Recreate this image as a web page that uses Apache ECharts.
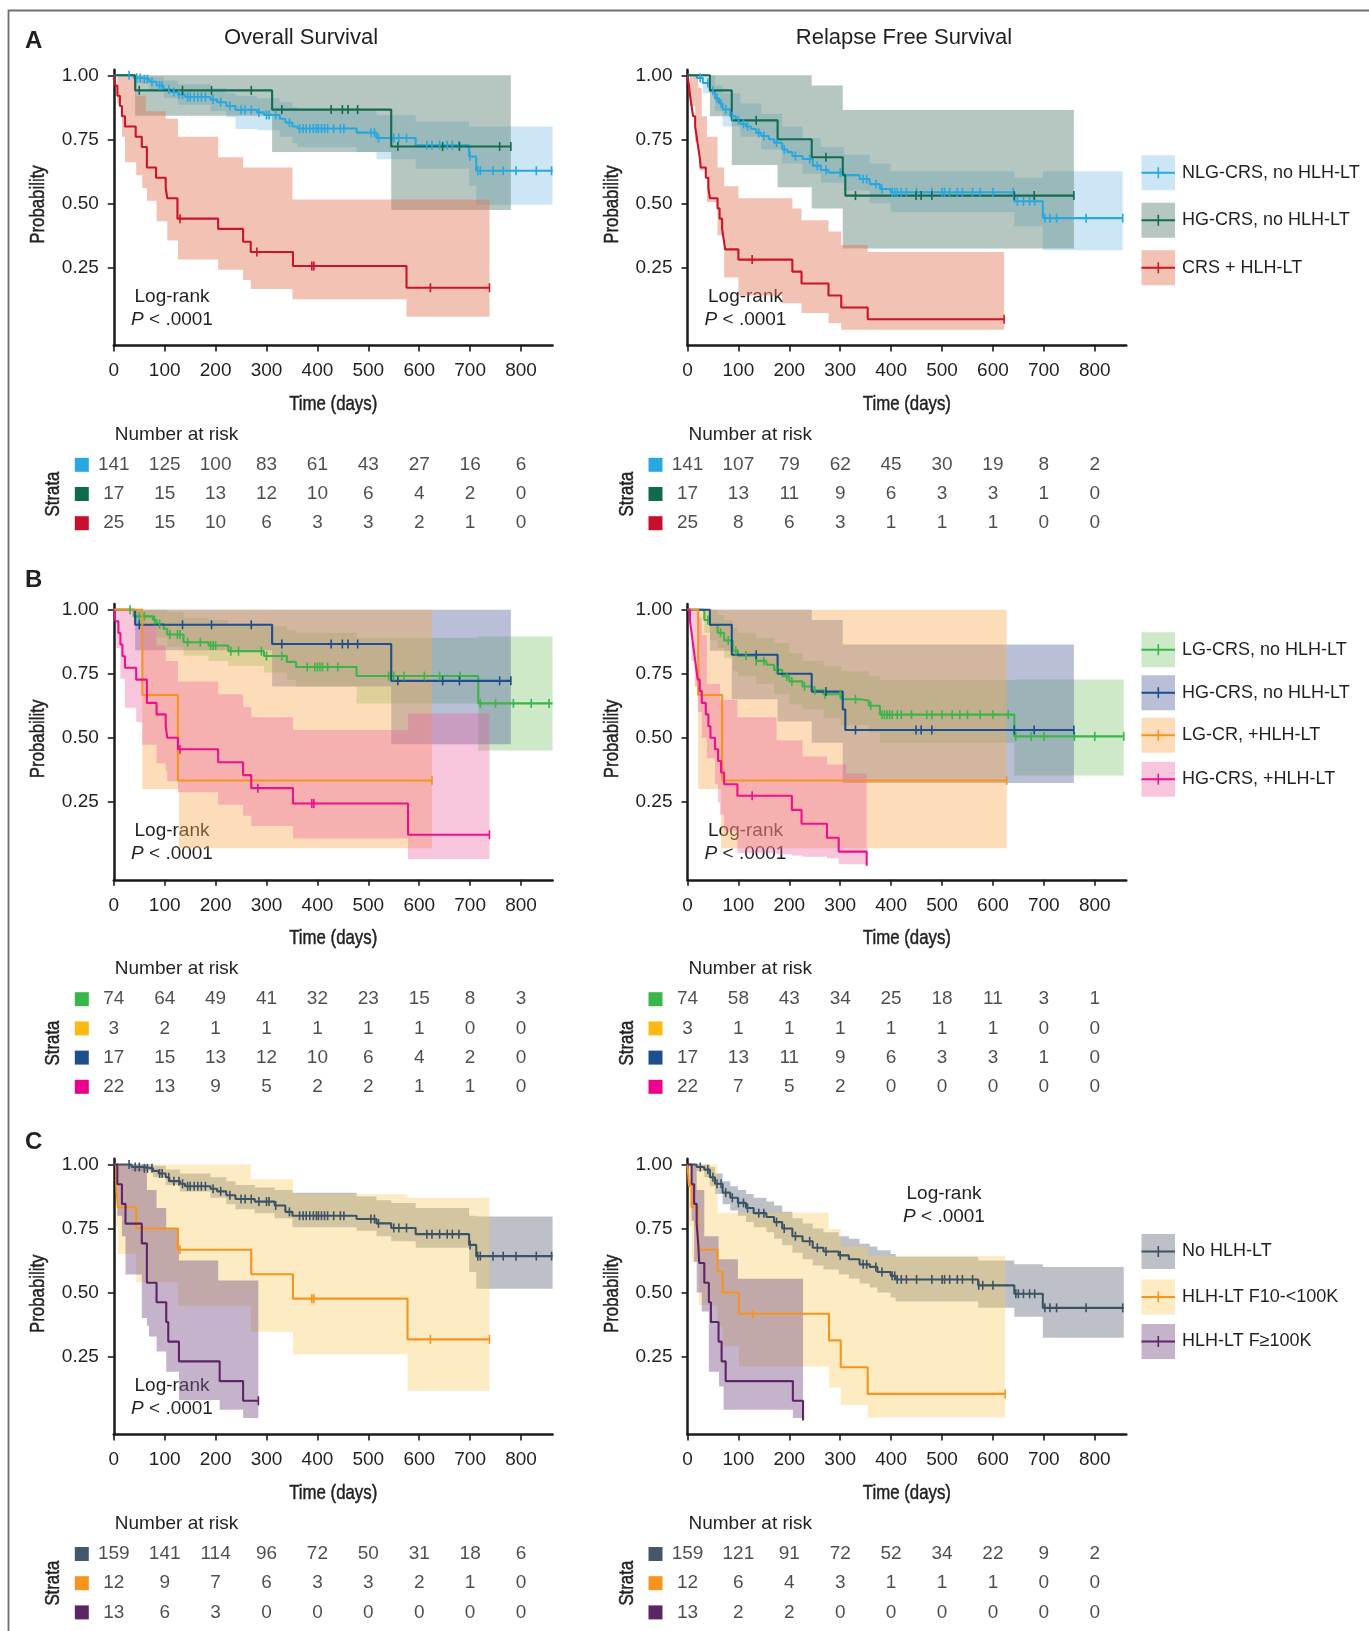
<!DOCTYPE html>
<html><head><meta charset="utf-8">
<script src="https://cdn.jsdelivr.net/npm/echarts@6/dist/echarts.min.js"></script>
<style>html,body{margin:0;padding:0;background:#fff}#c{width:1369px;height:1631px}</style>
</head><body><div id="c"></div>
<script>
// ---------- tick labels ----------
const X_TICKS=[0,100,200,300,400,500,600,700,800];
const Y_TICKS=[0.25,0.5,0.75,1.0];
const PANEL_TITLES=['Overall Survival','Relapse Free Survival'];
const PANEL_LETTERS=['A','B','C'];
const X_NAME='Time (days)', Y_NAME='Probability', RISK_TITLE='Number at risk', STRATA='Strata';

// ---------- Panel A ----------
const A_NAMES=['NLG-CRS, no HLH-LT','HG-CRS, no HLH-LT','CRS + HLH-LT'];
const A_OS_NLG_LINE=[[0,1],[39,0.99],[56,0.985],[70,0.975],[84,0.96],[98,0.945],[112,0.935],[126,0.925],[140,0.915],[190,0.905],[203,0.895],[221,0.88],[239,0.865],[281,0.855],[295,0.845],[326,0.83],[337,0.815],[351,0.80],[361,0.792],[477,0.776],[516,0.755],[593,0.727],[698,0.683],[712,0.627],[862,0.627]];
const A_OS_NLG_CENS=[30,45,52,60,66,75,90,95,108,118,128,135,145,150,158,165,172,180,195,210,228,250,258,270,285,300,305,318,345,365,372,378,385,392,398,402,408,414,420,432,445,452,505,512,520,550,560,575,615,625,640,655,665,678,700,715,720,745,765,790,830,860];
const A_OS_NLG_BAND=[[0,1,1],[39,0.97,1],[70,0.945,0.995],[98,0.91,0.98],[126,0.885,0.965],[190,0.86,0.95],[221,0.835,0.93],[239,0.79,0.92],[281,0.785,0.91],[326,0.76,0.895],[351,0.735,0.875],[361,0.72,0.87],[477,0.70,0.86],[516,0.672,0.845],[593,0.635,0.82],[698,0.57,0.80],[712,0.494,0.80]];
const A_OS_HG_LINE=[[0,1],[42,0.941],[311,0.866],[545,0.722],[780,0.722]];
const A_OS_HG_CENS=[50,135,192,270,330,427,449,460,479,558,646,679,758,780];
const A_OS_HG_BAND=[[0,1,1],[42,0.842,1],[311,0.70,1],[545,0.474,1]];
const A_OS_HLH_LINE=[[0,1],[3,0.96],[7,0.92],[12,0.88],[16,0.84],[22,0.80],[43,0.76],[55,0.72],[65,0.64],[83,0.60],[102,0.56],[105,0.52],[125,0.44],[205,0.40],[254,0.35],[269,0.31],[352,0.255],[575,0.17],[738,0.17]];
const A_OS_HLH_CENS=[130,281,389,393,622,738];
const A_OS_HLH_BAND=[[0,1,1],[7,0.89,1],[16,0.76,1],[22,0.66,1],[44,0.61,0.92],[56,0.56,0.92],[63,0.56,0.86],[65,0.51,0.86],[84,0.43,0.86],[102,0.43,0.83],[105,0.355,0.83],[126,0.28,0.76],[205,0.24,0.68],[254,0.20,0.64],[269,0.165,0.64],[351,0.125,0.515],[575,0.057,0.515]];

const A_RFS_NLG_LINE=[[0,1],[18,0.99],[30,0.97],[44,0.94],[54,0.91],[62,0.89],[69,0.867],[84,0.84],[95,0.825],[104,0.81],[115,0.80],[125,0.79],[135,0.775],[145,0.763],[160,0.75],[170,0.737],[186,0.71],[196,0.70],[206,0.685],[226,0.673],[246,0.647],[262,0.63],[277,0.62],[307,0.61],[338,0.595],[358,0.575],[378,0.556],[399,0.543],[642,0.508],[698,0.442],[855,0.442]];
const A_RFS_NLG_CENS=[25,40,50,58,66,75,88,100,110,118,140,150,175,190,212,240,255,272,300,345,352,370,382,402,407,412,420,430,450,480,500,505,515,530,540,560,575,600,640,648,660,672,682,702,712,725,783,855];
const A_RFS_NLG_BAND=[[0,1,1],[30,0.93,1],[54,0.86,0.96],[69,0.80,0.93],[104,0.76,0.89],[145,0.71,0.85],[186,0.655,0.80],[226,0.615,0.755],[262,0.58,0.72],[307,0.55,0.69],[358,0.50,0.655],[399,0.465,0.625],[642,0.41,0.60],[698,0.317,0.625]];
const A_RFS_HG_LINE=[[0,1],[44,0.941],[87,0.824],[177,0.75],[244,0.68],[305,0.61],[310,0.53],[759,0.53]];
const A_RFS_HG_CENS=[135,272,330,449,459,480,642,681,759];
const A_RFS_HG_BAND=[[0,1,1],[44,0.84,1],[87,0.65,1],[177,0.563,1],[244,0.48,0.96],[305,0.323,0.864]];
const A_RFS_HLH_LINE=[[0,1],[3,0.96],[5,0.92],[8,0.88],[11,0.84],[15,0.80],[18,0.76],[21,0.72],[24,0.68],[26,0.64],[36,0.60],[41,0.56],[44,0.52],[59,0.48],[63,0.44],[68,0.40],[71,0.36],[74,0.32],[100,0.28],[206,0.233],[224,0.187],[277,0.14],[302,0.093],[354,0.047],[622,0.047]];
const A_RFS_HLH_CENS=[127,622];
const A_RFS_HLH_BAND=[[0,1,1],[5,0.88,1],[15,0.74,1],[21,0.74,0.95],[23,0.63,0.95],[28,0.63,0.84],[38,0.505,0.76],[59,0.375,0.64],[72,0.21,0.567],[100,0.14,0.52],[186,0.11,0.52],[206,0.11,0.48],[224,0.071,0.434],[277,0.032,0.39],[302,0.006,0.337],[354,0.006,0.31]];

const A_OS_RISK=[[141,125,100,83,61,43,27,16,6],[17,15,13,12,10,6,4,2,0],[25,15,10,6,3,3,2,1,0]];
const A_RFS_RISK=[[141,107,79,62,45,30,19,8,2],[17,13,11,9,6,3,3,1,0],[25,8,6,3,1,1,1,0,0]];

// ---------- Panel B ----------
const B_NAMES=['LG-CRS, no HLH-LT','HG-CRS, no HLH-LT','LG-CR, +HLH-LT','HG-CRS, +HLH-LT'];
const B_OS_LG_LINE=[[0,1],[39,0.974],[77,0.96],[84,0.944],[98,0.925],[105,0.903],[137,0.873],[186,0.86],[225,0.838],[295,0.819],[340,0.796],[358,0.776],[477,0.741],[716,0.634],[862,0.634]];
const B_OS_LG_CENS=[32,50,60,80,90,110,125,130,145,170,190,195,200,230,245,290,300,330,380,395,400,405,410,420,440,540,550,570,610,640,680,720,750,785,820,855];
const B_OS_LG_BAND=[[0,1,1],[39,0.94,1],[84,0.89,1],[105,0.855,0.99],[137,0.82,0.97],[186,0.80,0.96],[225,0.78,0.945],[295,0.755,0.935],[340,0.725,0.92],[358,0.70,0.91],[477,0.634,0.89],[716,0.45,0.895]];
const B_OS_HG_LINE=[[0,1],[42,0.941],[311,0.866],[545,0.722],[780,0.722]];
const B_OS_HG_CENS=[50,135,192,270,330,427,449,460,479,558,646,679,758,780];
const B_OS_HG_BAND=[[0,1,1],[42,0.842,1],[311,0.70,1],[545,0.474,1]];
const B_OS_LGH_LINE=[[0,1],[56,0.667],[126,0.333],[625,0.333]];
const B_OS_LGH_CENS=[625];
const B_OS_LGH_BAND=[[0,1,1],[56,0.30,1],[128,0.068,1]];
const B_OS_HGH_LINE=[[0,1],[3,0.955],[9,0.909],[13,0.864],[17,0.818],[22,0.773],[44,0.727],[65,0.636],[84,0.591],[102,0.545],[105,0.50],[126,0.455],[205,0.404],[254,0.354],[270,0.303],[352,0.243],[578,0.121],[738,0.121]];
const B_OS_HGH_CENS=[130,283,389,393,738];
const B_OS_HGH_BAND=[[0,1,1],[5,0.85,1],[13,0.73,1],[22,0.617,1],[44,0.56,0.94],[56,0.472,0.94],[84,0.40,0.86],[102,0.37,0.80],[105,0.33,0.80],[126,0.287,0.72],[205,0.238,0.67],[254,0.195,0.62],[270,0.155,0.58],[352,0.106,0.53],[578,0.026,0.595]];

const B_RFS_LG_LINE=[[0,1],[33,0.96],[44,0.94],[59,0.91],[72,0.88],[89,0.84],[99,0.82],[135,0.80],[155,0.785],[170,0.765],[186,0.74],[200,0.72],[226,0.70],[246,0.685],[267,0.67],[302,0.65],[338,0.645],[356,0.625],[378,0.59],[642,0.505],[857,0.505]];
const B_RFS_LG_CENS=[40,65,80,95,115,135,150,175,195,205,230,250,270,300,330,360,382,387,392,397,402,412,420,440,470,480,500,520,535,550,575,600,630,645,675,700,760,800,857];
const B_RFS_LG_BAND=[[0,1,1],[33,0.91,1],[44,0.88,1],[59,0.85,0.98],[72,0.81,0.96],[89,0.76,0.93],[99,0.74,0.91],[135,0.71,0.89],[170,0.67,0.87],[200,0.63,0.83],[226,0.61,0.80],[267,0.575,0.78],[302,0.55,0.76],[356,0.52,0.74],[378,0.48,0.725],[642,0.352,0.727]];
const B_RFS_HG_LINE=[[0,1],[44,0.941],[87,0.824],[177,0.75],[244,0.68],[305,0.61],[310,0.53],[759,0.53]];
const B_RFS_HG_CENS=[135,272,330,449,459,480,642,681,759];
const B_RFS_HG_BAND=[[0,1,1],[44,0.84,1],[87,0.65,1],[177,0.563,1],[244,0.48,0.96],[305,0.323,0.864]];
const B_RFS_LGH_LINE=[[0,1],[21,0.667],[68,0.333],[627,0.333]];
const B_RFS_LGH_CENS=[627];
const B_RFS_LGH_BAND=[[0,1,1],[21,0.30,1],[66,0.068,1]];
const B_RFS_HGH_LINE=[[0,1],[5,0.955],[8,0.909],[11,0.864],[14,0.818],[17,0.773],[20,0.727],[24,0.682],[28,0.636],[36,0.591],[41,0.545],[45,0.50],[54,0.455],[60,0.409],[66,0.364],[72,0.318],[98,0.273],[205,0.218],[224,0.164],[274,0.109],[297,0.055],[352,0]];
const B_RFS_HGH_CENS=[127];
const B_RFS_HGH_BAND=[[0,1,1],[8,0.80,1],[14,0.70,1],[20,0.60,0.97],[28,0.50,0.90],[38,0.42,0.71],[54,0.32,0.71],[60,0.247,0.71],[64,0.20,0.647],[72,0.137,0.647],[98,0.05,0.58],[175,0.045,0.49],[205,0.04,0.49],[226,0.035,0.427],[274,0.029,0.395],[297,0.006,0.395],[312,0.006,0.36]];

const B_RISK_NAMES=['LG-CRS, no HLH-LT','LG-CR, +HLH-LT','HG-CRS, no HLH-LT','HG-CRS, +HLH-LT'];
const B_OS_RISK=[[74,64,49,41,32,23,15,8,3],[3,2,1,1,1,1,1,0,0],[17,15,13,12,10,6,4,2,0],[22,13,9,5,2,2,1,1,0]];
const B_RFS_RISK=[[74,58,43,34,25,18,11,3,1],[3,1,1,1,1,1,1,0,0],[17,13,11,9,6,3,3,1,0],[22,7,5,2,0,0,0,0,0]];

// ---------- Panel C ----------
const C_NAMES=['No HLH-LT','HLH-LT F10-<100K','HLH-LT F\u2265100K'];
const C_OS_NO_LINE=[[0,1],[35,0.99],[56,0.985],[77,0.975],[88,0.965],[102,0.95],[109,0.935],[130,0.925],[140,0.915],[190,0.905],[203,0.895],[221,0.88],[239,0.865],[277,0.855],[316,0.84],[337,0.815],[351,0.80],[477,0.787],[516,0.77],[545,0.752],[593,0.728],[698,0.686],[712,0.642],[862,0.642]];
const C_OS_NO_CENS=[30,42,50,60,66,75,90,95,108,118,128,135,145,150,158,165,172,180,195,210,228,250,258,270,285,300,305,318,345,365,372,378,385,392,398,402,408,414,420,432,445,452,505,512,520,550,560,575,615,625,640,655,665,678,700,715,720,745,765,790,830,860];
const C_OS_NO_BAND=[[0,1,1],[35,0.975,1],[77,0.95,0.995],[102,0.92,0.98],[130,0.895,0.965],[190,0.87,0.95],[221,0.845,0.935],[239,0.825,0.92],[277,0.81,0.91],[316,0.79,0.90],[351,0.755,0.89],[477,0.741,0.875],[516,0.72,0.86],[545,0.70,0.85],[593,0.675,0.83],[698,0.58,0.80],[712,0.515,0.797]];
const C_OS_F10_LINE=[[0,1],[5,0.917],[8,0.833],[44,0.75],[126,0.667],[270,0.571],[352,0.476],[577,0.317],[738,0.317]];
const C_OS_F10_CENS=[130,389,393,622,738];
const C_OS_F10_BAND=[[0,1,1],[5,0.76,1],[8,0.65,1],[44,0.54,1],[126,0.448,1],[269,0.347,0.942],[352,0.259,0.884],[577,0.116,0.87]];
const C_OS_F100_LINE=[[0,1],[7,0.923],[16,0.846],[23,0.769],[55,0.692],[65,0.538],[84,0.462],[103,0.385],[107,0.308],[128,0.231],[208,0.154],[254,0.077],[284,0.077]];
const C_OS_F100_CENS=[284];
const C_OS_F100_BAND=[[0,1,1],[7,0.80,1],[16,0.72,1],[23,0.57,1],[55,0.40,1],[65,0.37,0.90],[69,0.328,0.90],[84,0.27,0.83],[103,0.19,0.75],[128,0.08,0.625],[205,0.08,0.547],[208,0.042,0.547],[254,0.01,0.547]];

const C_RFS_NO_LINE=[[0,1],[18,0.99],[33,0.98],[44,0.95],[54,0.925],[69,0.89],[84,0.87],[99,0.85],[115,0.83],[130,0.81],[155,0.795],[170,0.775],[186,0.75],[206,0.72],[226,0.70],[246,0.675],[267,0.66],[297,0.645],[317,0.63],[338,0.61],[358,0.60],[373,0.58],[399,0.565],[409,0.551],[571,0.528],[642,0.495],[698,0.44],[857,0.44]];
const C_RFS_NO_CENS=[25,40,50,58,66,75,88,100,110,118,140,150,175,190,212,240,255,272,300,345,352,370,382,402,407,412,420,430,450,480,500,505,515,530,540,560,572,580,600,645,650,660,672,682,702,712,725,783,855];
const C_RFS_NO_BAND=[[0,1,1],[18,0.975,1],[33,0.95,1],[44,0.915,0.99],[54,0.885,0.965],[69,0.845,0.935],[84,0.82,0.915],[99,0.80,0.90],[115,0.775,0.885],[130,0.755,0.87],[155,0.735,0.855],[170,0.71,0.84],[186,0.685,0.815],[206,0.655,0.79],[226,0.63,0.77],[246,0.605,0.75],[267,0.59,0.735],[297,0.57,0.72],[317,0.555,0.71],[338,0.535,0.69],[358,0.52,0.68],[373,0.50,0.665],[399,0.48,0.65],[409,0.465,0.64],[571,0.44,0.625],[642,0.405,0.61],[698,0.323,0.60]];
const C_RFS_F10_LINE=[[0,1],[3,0.917],[8,0.833],[20,0.75],[22,0.667],[59,0.583],[69,0.50],[101,0.417],[278,0.313],[301,0.208],[354,0.104],[624,0.104]];
const C_RFS_F10_CENS=[128,624];
const C_RFS_F10_BAND=[[0,1,1],[3,0.76,1],[8,0.62,1],[22,0.45,1],[59,0.37,0.812],[69,0.29,0.812],[101,0.211,0.812],[277,0.211,0.748],[278,0.129,0.748],[301,0.061,0.68],[354,0.012,0.644]];
const C_RFS_F100_LINE=[[0,1],[8,0.923],[13,0.846],[18,0.769],[21,0.692],[23,0.615],[33,0.538],[42,0.462],[46,0.385],[61,0.308],[67,0.231],[75,0.154],[207,0.077],[227,0]];
const C_RFS_F100_CENS=[];
const C_RFS_F100_BAND=[[0,1,1],[8,0.78,1],[13,0.62,1],[18,0.50,0.90],[28,0.426,0.90],[33,0.426,0.72],[42,0.19,0.72],[61,0.19,0.63],[62,0.133,0.63],[71,0.042,0.63],[99,0.042,0.554],[207,0.01,0.554]];

const C_OS_RISK=[[159,141,114,96,72,50,31,18,6],[12,9,7,6,3,3,2,1,0],[13,6,3,0,0,0,0,0,0]];
const C_RFS_RISK=[[159,121,91,72,52,34,22,9,2],[12,6,4,3,1,1,1,0,0],[13,2,2,0,0,0,0,0,0]];

// ---------- styles ----------
const FONT="'Liberation Sans', Arial, Helvetica, sans-serif";
const INK='#231f20';
const NARROW_SCALE=0.82;
const S_A=[{line:'#29A8E0',band:'rgba(112,184,226,0.35)',sq:'#29A8E0'},{line:'#136B4E',band:'rgba(91,131,115,0.45)',sq:'#0F6B4F'},{line:'#CC1429',band:'rgba(226,119,91,0.45)',sq:'#C8102E'}];
const S_B={LG:{line:'#3AB54A',band:'rgba(130,200,115,0.4)',sq:'#3AB54A'},HG:{line:'#1D4F8C',band:'rgba(99,113,164,0.45)',sq:'#1D4F8C'},LGH:{line:'#F7941D',band:'rgba(250,170,80,0.4)',sq:'#FDB913'},HGH:{line:'#EC118C',band:'rgba(232,92,158,0.35)',sq:'#EC008C'}};
const S_C=[{line:'#3B5364',band:'rgba(108,115,128,0.45)',sq:'#43596B'},{line:'#F7941D',band:'rgba(247,205,105,0.4)',sq:'#F7941D'},{line:'#5C2566',band:'rgba(126,86,139,0.45)',sq:'#5C2566'}];

// ---------- layout ----------
const XMAX=862, YMIN=-0.055, YMAX=1.022, PXU=256;
const LEFTS=[113.8,687.5], W=438.8, Y1S=[75.3,609.7,1164.5];
const ROW0_DY=389.5, ROW_H=29.2, NAR_DY=359;

const st=(l,c,b,s)=>({line:l,cens:c,band:b,sty:s});
const PANELS=[
 {row:0,col:0,strata:[st(A_OS_NLG_LINE,A_OS_NLG_CENS,A_OS_NLG_BAND,S_A[0]),st(A_OS_HG_LINE,A_OS_HG_CENS,A_OS_HG_BAND,S_A[1]),st(A_OS_HLH_LINE,A_OS_HLH_CENS,A_OS_HLH_BAND,S_A[2])],risk:A_OS_RISK,riskNames:A_NAMES,riskColors:S_A.map(s=>s.sq),lr:[172,221]},
 {row:0,col:1,strata:[st(A_RFS_NLG_LINE,A_RFS_NLG_CENS,A_RFS_NLG_BAND,S_A[0]),st(A_RFS_HG_LINE,A_RFS_HG_CENS,A_RFS_HG_BAND,S_A[1]),st(A_RFS_HLH_LINE,A_RFS_HLH_CENS,A_RFS_HLH_BAND,S_A[2])],risk:A_RFS_RISK,riskNames:A_NAMES,riskColors:S_A.map(s=>s.sq),lr:[745.5,221],
  legend:{names:A_NAMES,sty:S_A,dy:[97.5,145,192.5]}},
 {row:1,col:0,strata:[st(B_OS_LG_LINE,B_OS_LG_CENS,B_OS_LG_BAND,S_B.LG),st(B_OS_HG_LINE,B_OS_HG_CENS,B_OS_HG_BAND,S_B.HG),st(B_OS_LGH_LINE,B_OS_LGH_CENS,B_OS_LGH_BAND,S_B.LGH),st(B_OS_HGH_LINE,B_OS_HGH_CENS,B_OS_HGH_BAND,S_B.HGH)],risk:B_OS_RISK,riskNames:B_RISK_NAMES,riskColors:[S_B.LG.sq,S_B.LGH.sq,S_B.HG.sq,S_B.HGH.sq],lr:[172,221]},
 {row:1,col:1,strata:[st(B_RFS_LG_LINE,B_RFS_LG_CENS,B_RFS_LG_BAND,S_B.LG),st(B_RFS_HG_LINE,B_RFS_HG_CENS,B_RFS_HG_BAND,S_B.HG),st(B_RFS_LGH_LINE,B_RFS_LGH_CENS,B_RFS_LGH_BAND,S_B.LGH),st(B_RFS_HGH_LINE,B_RFS_HGH_CENS,B_RFS_HGH_BAND,S_B.HGH)],risk:B_RFS_RISK,riskNames:B_RISK_NAMES,riskColors:[S_B.LG.sq,S_B.LGH.sq,S_B.HG.sq,S_B.HGH.sq],lr:[745.5,221],
  legend:{names:B_NAMES,sty:[S_B.LG,S_B.HG,S_B.LGH,S_B.HGH],dy:[40,83,125.5,169.5]}},
 {row:2,col:0,strata:[st(C_OS_NO_LINE,C_OS_NO_CENS,C_OS_NO_BAND,S_C[0]),st(C_OS_F10_LINE,C_OS_F10_CENS,C_OS_F10_BAND,S_C[1]),st(C_OS_F100_LINE,C_OS_F100_CENS,C_OS_F100_BAND,S_C[2])],risk:C_OS_RISK,riskNames:C_NAMES,riskColors:S_C.map(s=>s.sq),lr:[172,221]},
 {row:2,col:1,strata:[st(C_RFS_NO_LINE,C_RFS_NO_CENS,C_RFS_NO_BAND,S_C[0]),st(C_RFS_F10_LINE,C_RFS_F10_CENS,C_RFS_F10_BAND,S_C[1]),st(C_RFS_F100_LINE,C_RFS_F100_CENS,C_RFS_F100_BAND,S_C[2])],risk:C_RFS_RISK,riskNames:C_NAMES,riskColors:S_C.map(s=>s.sq),lr:[944,29.5],
  legend:{names:C_NAMES,sty:S_C,dy:[87,132.5,177]}}
];

function stepAt(line,t){let v=line[0][1];for(const p of line){if(p[0]<=t)v=p[1];else break;}return v;}
function makeBand(rows,end,color){
  return function(params,api){
    if(params.dataIndex!==0) return;
    const pts=[];
    for(let i=0;i<rows.length;i++){const t0=rows[i][0],t1=i+1<rows.length?rows[i+1][0]:end;pts.push(api.coord([t0,rows[i][2]]));pts.push(api.coord([t1,rows[i][2]]));}
    for(let i=rows.length-1;i>=0;i--){const t0=rows[i][0],t1=i+1<rows.length?rows[i+1][0]:end;pts.push(api.coord([t1,rows[i][1]]));pts.push(api.coord([t0,rows[i][1]]));}
    return {type:'polygon',shape:{points:pts},style:{fill:color}};
  };
}
function txt(x,y,text,size,opt){
  opt=opt||{};
  const el={type:'text',x:x,y:y,style:{text:text,font:(opt.weight?opt.weight+' ':'')+size+'px '+FONT,fill:INK,
    align:opt.align||'center',textAlign:opt.align||'center',verticalAlign:'middle',textVerticalAlign:'middle'}};
  if(opt.rich) el.style.rich=opt.rich;
  if(opt.rot) el.rotation=opt.rot;
  if(opt.sx) el.scaleX=opt.sx;
  if(opt.heavy){el.style.stroke=INK;el.style.lineWidth=opt.heavy;}
  return el;
}
const axisLine={show:true,onZero:false,lineStyle:{color:'#1a1a1a',width:2.5}};
const axisTick={show:true,inside:false,length:6,lineStyle:{color:'#1a1a1a',width:1.6}};

const grids=[],xAxes=[],yAxes=[],series=[],gfx=[];
PANELS.forEach((P,p)=>{
  const left=LEFTS[P.col],y1=Y1S[P.row];
  const top=y1-(YMAX-1)*PXU,h=(YMAX-YMIN)*PXU;
  grids.push({left:left,top:top,width:W,height:h,containLabel:false,outerBoundsMode:'none'});
  xAxes.push({gridIndex:p,type:'value',min:0,max:XMAX,axisLine,axisTick:Object.assign({},axisTick,{customValues:X_TICKS}),
    axisLabel:{customValues:X_TICKS,margin:16,fontSize:19,fontFamily:FONT,color:INK},splitLine:{show:false}});
  yAxes.push({gridIndex:p,type:'value',min:YMIN,max:YMAX,axisLine,axisTick:Object.assign({},axisTick,{customValues:Y_TICKS}),
    axisLabel:{customValues:Y_TICKS,formatter:v=>Number(v).toFixed(2),margin:15,fontSize:19,fontFamily:FONT,color:INK},splitLine:{show:false}});
  // axis names (condensed look)
  gfx.push(txt(left+W/2,top+h+59,X_NAME,20.5,{sx:NARROW_SCALE,heavy:0.5}));
  gfx.push(txt(left-75.5,top+h/2-3,Y_NAME,20.5,{sx:NARROW_SCALE,rot:Math.PI/2,heavy:0.5}));
  P.strata.forEach(S=>{const end=S.line[S.line.length-1][0];
    series.push({type:'custom',xAxisIndex:p,yAxisIndex:p,z:1,silent:true,clip:false,data:S.band,renderItem:makeBand(S.band,end,S.sty.band)});});
  P.strata.forEach(S=>series.push({type:'line',xAxisIndex:p,yAxisIndex:p,z:3,step:'end',data:S.line,showSymbol:false,symbol:'none',silent:true,lineStyle:{color:S.sty.line,width:2.1}}));
  P.strata.forEach(S=>series.push({type:'scatter',xAxisIndex:p,yAxisIndex:p,z:4,silent:true,symbol:'rect',symbolSize:[1.6,9],
    data:S.cens.map(t=>[t,stepAt(S.line,t)]),itemStyle:{color:S.sty.line,opacity:1}}));
  // log-rank
  const lx=P.lr[0],ly=y1+P.lr[1];
  gfx.push(txt(lx,ly,'Log-rank',19));
  gfx.push(txt(lx,ly+23,'{i|P}{n| < .0001}',19,{rich:{i:{fontStyle:'italic',fontSize:19,fontFamily:FONT,fill:INK,color:INK},n:{fontSize:19,fontFamily:FONT,fill:INK,color:INK}}}));
  // legend
  if(P.legend){P.legend.names.forEach((nm,k)=>{const cy=y1+P.legend.dy[k],s=P.legend.sty[k];
    gfx.push({type:'rect',shape:{x:1141.5,y:cy-17.5,width:33.5,height:35},style:{fill:s.band}});
    gfx.push({type:'line',shape:{x1:1141.5,y1:cy,x2:1175,y2:cy},style:{stroke:s.line,lineWidth:2}});
    gfx.push({type:'line',shape:{x1:1158.3,y1:cy-5.5,x2:1158.3,y2:cy+5.5},style:{stroke:s.line,lineWidth:1.6}});
    gfx.push(txt(1182,cy,nm,18,{align:'left'}));
  });}
});
PANELS.forEach((P,p)=>{
  const left=LEFTS[P.col],y1=Y1S[P.row],n=P.risk.length,first=y1+ROW0_DY,gi=6+p;
  grids.push({left:left,top:first-ROW_H/2,width:W,height:ROW_H*n,containLabel:false,outerBoundsMode:'none'});
  xAxes.push({gridIndex:gi,type:'value',min:0,max:XMAX,show:false});
  const rich={};P.riskColors.forEach((c,i)=>{rich['s'+i]={width:14,height:14,lineHeight:14,backgroundColor:c,fontSize:8};});
  yAxes.push({gridIndex:gi,type:'category',data:P.riskNames,inverse:true,axisLine:{show:false},axisTick:{show:false},splitLine:{show:false},
    axisLabel:{margin:25,formatter:(v,i)=>'{s'+i+'|\u00a0}',rich}});
  const data=[];P.risk.forEach((row,i)=>row.forEach((v,j)=>data.push([X_TICKS[j],i,v])));
  series.push({type:'scatter',xAxisIndex:gi,yAxisIndex:gi,data,symbolSize:1,silent:true,itemStyle:{color:'rgba(0,0,0,0)'},
    label:{show:true,position:'inside',formatter:q=>String(q.value[2]),fontSize:19,fontFamily:FONT,color:INK}});
  gfx.push(txt(left+1,y1+NAR_DY,RISK_TITLE,19,{align:'left'}));
  gfx.push(txt(left-60.5,first+(n-1)*ROW_H/2,STRATA,20.5,{sx:NARROW_SCALE,rot:Math.PI/2,heavy:0.5}));
});
// titles, letters, border
gfx.push(txt(301,37.5,PANEL_TITLES[0],22));
gfx.push(txt(904,37.5,PANEL_TITLES[1],22));
[41.5,580.3,1142.2].forEach((y,i)=>gfx.push(txt(25,y,PANEL_LETTERS[i],24,{align:'left',weight:'bold'})));
gfx.push({type:'polyline',shape:{points:[[8.5,1640],[8.5,10.5],[1380,10.5]]},style:{stroke:'#6d6e71',lineWidth:1.8,fill:null}});

const chart=echarts.init(document.getElementById('c'),null,{width:1369,height:1631});
chart.setOption({animation:false,backgroundColor:'#ffffff',grid:grids,xAxis:xAxes,yAxis:yAxes,series:series,graphic:{elements:gfx}});
</script></body></html>
